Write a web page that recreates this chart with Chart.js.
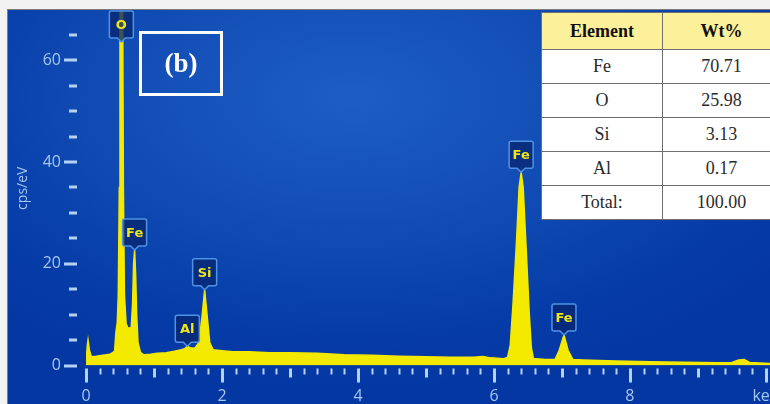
<!DOCTYPE html>
<html>
<head>
<meta charset="utf-8">
<script src="https://cdn.jsdelivr.net/npm/chart.js@4.4.0/dist/chart.umd.min.js"></script>
<style>
  html, body { margin: 0; padding: 0; }
  body { width: 770px; height: 404px; background: #f2f2f2; position: relative; overflow: hidden; }
  #panel {
    position: absolute; left: 7px; top: 9px; width: 763px; height: 395px;
    border-left: 1px solid #7d7d7d; border-top: 1px solid #7d7d7d;
    background: radial-gradient(ellipse 70% 75% at 45% 22%, #1d5ec4 0%, #114cb4 45%, #063ca8 80%, #0437a2 100%);
  }
  #spectrum { position: absolute; left: 0; top: 0; }
  #tag {
    position: absolute; left: 139px; top: 31px; width: 78px; height: 59px;
    border: 3px solid #ffffff; color: #ffffff;
    font: bold 27px "Liberation Serif", serif; line-height: 59px; text-align: center;
  }
  #wt {
    position: absolute; left: 541px; top: 12px; width: 240px; height: 207px;
    border-collapse: collapse; background: #ffffff;
    font: 18px "Liberation Serif", serif; color: #2a2a2a;
  }
  #wt td, #wt th { border: 1px solid #6e6e6e; text-align: center; padding: 0; }
  #wt th { background: #fdf09a; color: #111; font-weight: bold; height: 36px; }
  #wt td { height: 33px; }
  #wt td:first-child, #wt th:first-child { width: 120px; }
</style>
</head>
<body>
<div id="panel"></div>
<canvas id="spectrum" width="770" height="404"></canvas>
<div id="tag">(b)</div>
<table id="wt"><thead></thead><tbody></tbody></table>

<script>
// EDS spectrum, energy in keV and intensity in cps/eV
const energy = [
  0.00, 0.02, 0.03, 0.05, 0.08, 0.15, 0.25, 0.35, 0.42, 0.44,
  0.46, 0.475, 0.49, 0.50, 0.51, 0.53, 0.54, 0.55, 0.565, 0.59,
  0.62, 0.665, 0.685, 0.70, 0.715, 0.73, 0.745, 0.765, 0.80, 0.85,
  0.95, 1.05, 1.18, 1.30, 1.40, 1.45, 1.49, 1.53, 1.60, 1.66,
  1.71, 1.745, 1.78, 1.82, 1.87, 2.00, 2.16, 2.40, 2.70, 3.00,
  3.40, 3.80, 4.20, 4.60, 5.00, 5.35, 5.70, 5.84, 5.95, 6.14,
  6.20, 6.24, 6.28, 6.33, 6.37, 6.40, 6.43, 6.47, 6.52, 6.55,
  6.58, 6.75, 6.90, 6.96, 7.03, 7.09, 7.16, 7.31, 7.80, 8.29,
  8.80, 9.28, 9.50, 9.60, 9.68, 9.76, 10.06
];
const counts = [
  0.3, 4.0, 5.0, 3.0, 1.7, 1.8, 2.0, 2.2, 2.8, 6.5,
  8.5, 14, 35, 68, 90, 90, 68, 35, 14, 8.2,
  7.3, 7.5, 12, 20, 22.7, 18, 10, 4.5, 2.6, 2.1,
  2.2, 2.4, 2.5, 2.8, 3.1, 3.3, 3.8, 3.5, 3.4, 4.5,
  10, 14.9, 10, 4.5, 3.1, 2.9, 2.7, 2.7, 2.5, 2.5,
  2.4, 2.1, 2.0, 1.8, 1.7, 1.6, 1.6, 1.75, 1.5, 1.35,
  1.6, 4, 12, 24, 35, 38, 35, 24, 10, 3.5,
  1.4, 1.2, 1.2, 3, 6.0, 3, 1.2, 1.1, 0.9, 0.75,
  0.65, 0.55, 0.6, 1.1, 1.2, 0.6, 0.4
];

// identified lines
const peakNames = ['O', 'Fe', 'Al', 'Si', 'Fe', 'Fe'];
const peakEnergy = [0.52, 0.715, 1.49, 1.745, 6.40, 7.03];

// quantification table
const tableHead = ['Element', 'Wt%'];
const tableElements = ['Fe', 'O', 'Si', 'Al', 'Total:'];
const tableWt = ['70.71', '25.98', '3.13', '0.17', '100.00'];

// axis labels
const xTickLabels = ['0', '2', '4', '6', '8', 'keV'];
const xTickValues = [0, 2, 4, 6, 8, 10];
const yTickLabels = ['0', '20', '40', '60'];
const yTickValues = [0, 20, 40, 60];

const tickColor = '#b4d2f4';
const labelColor = '#a6c8f0';

// table
const thead = document.querySelector('#wt thead');
thead.innerHTML = '<tr>' + tableHead.map(h => '<th>' + h + '</th>').join('') + '</tr>';
const tbody = document.querySelector('#wt tbody');
tableElements.forEach((el, i) => {
  const tr = document.createElement('tr');
  tr.innerHTML = '<td>' + el + '</td><td>' + tableWt[i] + '</td>';
  tbody.appendChild(tr);
});

// value at a given energy, taken from the spectrum itself
function countsAt(e) {
  let best = 0;
  energy.forEach((v, i) => { if (Math.abs(v - e) < Math.abs(energy[best] - e)) best = i; });
  return counts[best];
}

// no extra room for edge labels, the plot runs to the panel edges
function noPadding(s) {
  s.paddingTop = 0;
  s.paddingBottom = 0;
  s.paddingLeft = 0;
  s.paddingRight = 0;
}

// tick marks sit a little off the plot edge, with three lengths on x
const tickMarks = {
  id: 'tickMarks',
  afterDraw(chart) {
    const { ctx, chartArea } = chart;
    const xs = chart.scales.x, ys = chart.scales.y;
    ctx.save();
    ctx.strokeStyle = tickColor;
    ctx.lineCap = 'butt';
    for (let k = 0; k <= 50; k++) {
      const px = Math.round(xs.getPixelForValue(k * 0.2)) + 0.5;
      let len = 6;
      if (k % 10 === 0) len = 14;
      else if (k % 5 === 0) len = 9;
      ctx.lineWidth = k % 5 === 0 ? 3 : 2;
      ctx.beginPath();
      ctx.moveTo(px, chartArea.bottom + 3);
      ctx.lineTo(px, chartArea.bottom + 3 + len);
      ctx.stroke();
    }
    for (let v = 0; v <= ys.max; v += 5) {
      const py = Math.round(ys.getPixelForValue(v));
      const major = yTickValues.includes(v);
      ctx.lineWidth = 3;
      ctx.beginPath();
      ctx.moveTo(chartArea.left - 9 - (major ? 13 : 8), py);
      ctx.lineTo(chartArea.left - 9, py);
      ctx.stroke();
    }
    ctx.restore();
  }
};

// element tags over the peaks
const peakTags = {
  id: 'peakTags',
  afterDatasetsDraw(chart) {
    const { ctx, chartArea } = chart;
    const xs = chart.scales.x, ys = chart.scales.y;
    const w = 24, h = 27;
    ctx.save();
    peakNames.forEach((name, i) => {
      const cx = xs.getPixelForValue(peakEnergy[i]);
      let bottom = ys.getPixelForValue(countsAt(peakEnergy[i])) - 4;
      if (bottom - h < chartArea.top) bottom = chartArea.top + h;
      const left = cx - w / 2, top = bottom - h;
      ctx.fillStyle = 'rgba(8, 38, 112, 0.78)';
      ctx.strokeStyle = '#4f93e4';
      ctx.lineWidth = 1.5;
      ctx.beginPath();
      ctx.moveTo(left + 2, top);
      ctx.lineTo(left + w - 2, top);
      ctx.quadraticCurveTo(left + w, top, left + w, top + 2);
      ctx.lineTo(left + w, bottom - 2);
      ctx.quadraticCurveTo(left + w, bottom, left + w - 2, bottom);
      ctx.lineTo(cx + 4, bottom);
      ctx.lineTo(cx, bottom + 4);
      ctx.lineTo(cx - 4, bottom);
      ctx.lineTo(left + 2, bottom);
      ctx.quadraticCurveTo(left, bottom, left, bottom - 2);
      ctx.lineTo(left, top + 2);
      ctx.quadraticCurveTo(left, top, left + 2, top);
      ctx.closePath();
      ctx.fill();
      ctx.stroke();
      ctx.fillStyle = '#eee51a';
      ctx.font = 'bold 13px "DejaVu Sans", sans-serif';
      ctx.textAlign = 'center';
      ctx.textBaseline = 'middle';
      ctx.fillText(name, cx, top + h / 2 + 1);
    });
    ctx.restore();
  }
};

const points = energy.map((e, i) => ({ x: e, y: counts[i] }));

new Chart(document.getElementById('spectrum'), {
  type: 'scatter',
  data: {
    datasets: [{
      data: points,
      showLine: true,
      fill: 'origin',
      borderColor: '#f4ea00',
      backgroundColor: '#f4ea00',
      borderWidth: 1.5,
      pointRadius: 0,
      tension: 0
    }]
  },
  options: {
    responsive: false,
    animation: false,
    events: [],
    layout: { padding: { top: 11, left: 0, right: 0, bottom: 0 }, autoPadding: false },
    plugins: { legend: { display: false }, tooltip: { enabled: false } },
    scales: {
      x: {
        type: 'linear',
        min: 0,
        max: 10.06,
        afterFit: s => { s.height = 38.5; noPadding(s); },
        afterBuildTicks: s => { s.ticks = xTickValues.map(v => ({ value: v })); },
        grid: { display: false },
        border: { display: false },
        ticks: {
          autoSkip: false,
          maxRotation: 0,
          padding: 13,
          color: labelColor,
          font: { family: '"Open Sans", sans-serif', size: 16 },
          callback: v => xTickLabels[xTickValues.indexOf(v)]
        }
      },
      y: {
        min: 0,
        max: 69.7,
        afterFit: s => { s.width = 86; noPadding(s); },
        afterBuildTicks: s => { s.ticks = yTickValues.map(v => ({ value: v })); },
        grid: { display: false },
        border: { display: false },
        ticks: {
          padding: 17,
          color: labelColor,
          font: { family: '"Open Sans", sans-serif', size: 16 },
          callback: v => yTickLabels[yTickValues.indexOf(v)]
        },
        title: {
          display: true,
          text: 'cps/eV',
          color: labelColor,
          font: { family: '"Open Sans", sans-serif', size: 14 },
          padding: { top: 15, bottom: 0 }
        }
      }
    }
  },
  plugins: [tickMarks, peakTags]
});
</script>
</body>
</html>
